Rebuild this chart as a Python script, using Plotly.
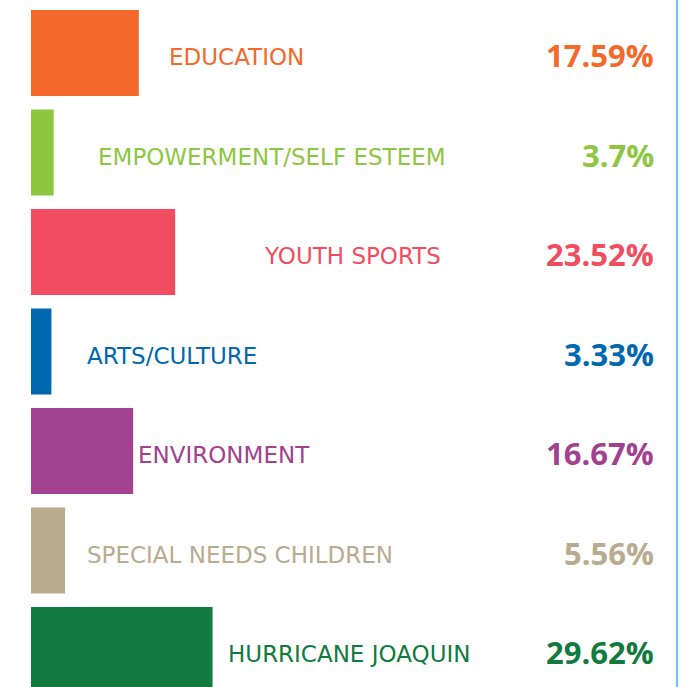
import plotly.graph_objects as go

# ---- data ----
categories = ["EDUCATION", "EMPOWERMENT/SELF ESTEEM", "YOUTH SPORTS", "ARTS/CULTURE",
              "ENVIRONMENT", "SPECIAL NEEDS CHILDREN", "HURRICANE JOAQUIN"]
values = [17.59, 3.7, 23.52, 3.33, 16.67, 5.56, 29.62]
value_labels = ["17.59%", "3.7%", "23.52%", "3.33%", "16.67%", "5.56%", "29.62%"]

# ---- styles / layout ----
colors = ["#F4682A", "#8DC63F", "#F04E60", "#0067B1", "#A1418F", "#B8AB8F", "#107A3F"]
label_left_px = [169, 98, 264, 87, 138, 87, 228]
W, H = 693, 687
ML = 31
PW = W - ML


def px_to_paper(px):
    return (px - ML) / PW


fig = go.Figure()
fig.add_trace(go.Bar(
    x=values, y=categories, orientation="h",
    marker=dict(color=colors, line=dict(width=0)),
    width=0.864, hoverinfo="skip",
))

annotations = []
for i, cat in enumerate(categories):
    annotations.append(dict(
        x=px_to_paper(label_left_px[i] - 2), xref="paper", y=cat, yref="y",
        text=cat, showarrow=False, xanchor="left", yanchor="middle", yshift=-4,
        font=dict(family="DejaVu Sans", size=23, color=colors[i]),
    ))
    annotations.append(dict(
        x=px_to_paper(656), xref="paper", y=cat, yref="y",
        text="<b>" + value_labels[i] + "</b>", showarrow=False, xanchor="right",
        yanchor="middle", yshift=-2,
        font=dict(family="Open Sans", size=31, color=colors[i]),
    ))

fig.update_layout(
    width=W, height=H,
    margin=dict(l=ML, r=0, t=0, b=0),
    paper_bgcolor="white", plot_bgcolor="white",
    showlegend=False,
    xaxis=dict(range=[0, 108], visible=False, fixedrange=True),
    yaxis=dict(type="category", categoryorder="array", categoryarray=categories,
               range=[6.371, -0.533], visible=False, fixedrange=True),
    annotations=annotations,
    shapes=[dict(type="line", xref="paper", yref="paper", x0=px_to_paper(677), x1=px_to_paper(677),
                 y0=0, y1=1, line=dict(color="#3FA9F5", width=1.5))],
)

fig.write_html("out.html", config={"displayModeBar": False})
